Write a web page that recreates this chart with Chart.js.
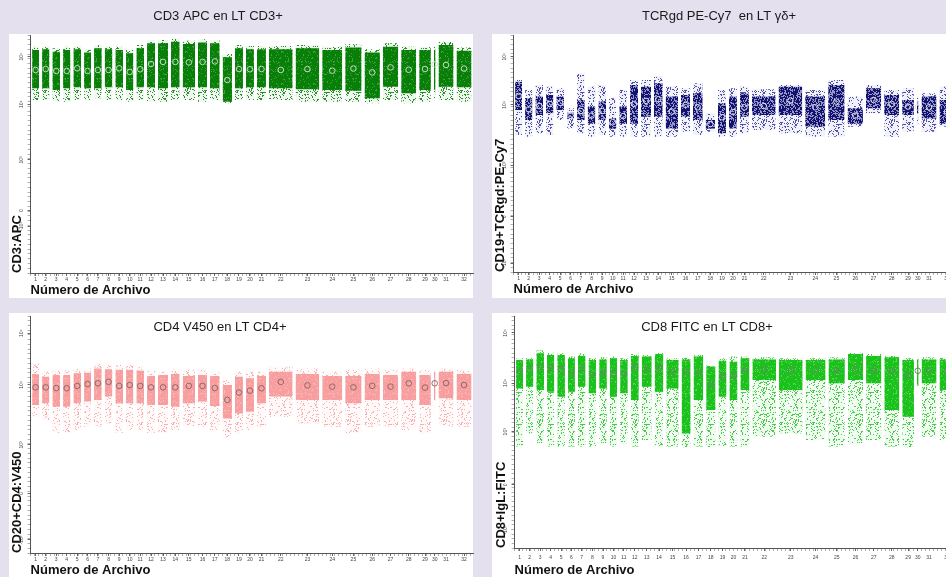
<!DOCTYPE html>
<html lang="es">
<head>
<meta charset="utf-8">
<title>Estabilidad de fluorescencia por archivo</title>
<script src="https://cdn.jsdelivr.net/npm/chart.js@4.4.1/dist/chart.umd.min.js"></script>
<style>
  html, body { margin: 0; padding: 0; }
  body {
    width: 946px;
    height: 577px;
    overflow: hidden;
    position: relative;
    background: #e4e0ee;
  }
  canvas { position: absolute; }
  #cd3Chart { left: 0; top: 0; }
  #tcrChart { left: 480px; top: 0; }
  #cd4Chart { left: 0; top: 300px; }
  #cd8Chart { left: 480px; top: 300px; }
</style>
</head>
<body>
<canvas id="cd3Chart" width="480" height="300"></canvas>
<canvas id="tcrChart" width="490" height="300"></canvas>
<canvas id="cd4Chart" width="480" height="280"></canvas>
<canvas id="cd8Chart" width="490" height="280"></canvas>

<script>
// Files (x axis) and number of events per file, in thousands
const fileLabels = ['1','2','3','4','5','6','7','8','9','10','11','12','13','14','15','16',
    '17','18','19','20','21','22','23','24','25','26','27','28','29','30','31','32'];
const fileEvents = [30, 31, 32, 31, 32, 30, 32, 32, 32, 31, 32, 33, 39, 35, 46, 36,
    38, 37, 33, 33, 36, 80, 80, 69, 58, 55, 55, 54, 44, 14, 54, 54];

// Y axis in display channels (0-1000), biexponential tick labels
const yTickLabels = ['-10³', '0', '10³', '10⁴', '10⁵'];
const cd3Ticks = [195, 262, 475, 709, 909];
const tcrTicks = [37, 233, 451, 705, 908];
const cd4Ticks = [55, 252, 456, 709, 927];
const cd8Ticks = [78, 272, 501, 711, 927];

// CD3 APC en LT CD3+
const cd3TailHi = [951, 954, 944, 951, 954, 940, 958, 954, 951, 937, 958, 979, 979, 986, 976, 982,
    979, 920, 958, 954, 954, 954, 958, 951, 962, 940, 965, 951, 951, 951, 972, 948];
const cd3CoreHi = [937, 940, 930, 937, 940, 926, 944, 940, 937, 923, 944, 965, 965, 972, 962, 968,
    965, 906, 944, 940, 940, 940, 944, 937, 948, 926, 951, 937, 937, 937, 958, 934];
const cd3Median = [853, 857, 849, 849, 860, 849, 853, 853, 860, 845, 856, 878, 887, 887, 885, 887,
    889, 811, 857, 856, 857, 853, 857, 850, 859, 843, 864, 854, 857, 877, 874, 859];
const cd3CoreLo = [776, 776, 769, 776, 780, 776, 776, 780, 780, 769, 780, 780, 776, 780, 780, 780,
    776, 720, 776, 780, 780, 776, 772, 769, 766, 734, 783, 755, 769, 770, 783, 780];
const cd3TailLo = [727, 727, 720, 720, 727, 727, 734, 727, 727, 720, 727, 720, 720, 727, 727, 720,
    727, 713, 727, 727, 727, 727, 720, 720, 720, 713, 727, 713, 720, 727, 727, 720];

// TCRgd PE-Cy7 en LT gd+
const tcrTailHi = [810, 768, 789, 782, 775, 691, 838, 782, 789, 733, 768, 810, 810, 827, 785, 775,
    796, 670, 768, 775, 782, 771, 789, 768, 810, 740, 789, 768, 775, 740, 754, 782];
const tcrCoreHi = [803, 733, 740, 747, 740, 672, 726, 698, 719, 648, 698, 789, 782, 796, 740, 747,
    754, 641, 712, 740, 754, 740, 782, 740, 789, 691, 775, 747, 726, 720, 740, 726];
const tcrMedian = [743, 686, 700, 709, 714, 660, 679, 660, 679, 632, 658, 709, 722, 729, 677, 705,
    695, 624, 653, 675, 695, 700, 723, 695, 719, 660, 726, 709, 698, 695, 695, 677];
const tcrCoreLo = [684, 641, 662, 670, 684, 648, 641, 627, 641, 606, 627, 627, 655, 655, 606, 655,
    641, 606, 585, 606, 655, 662, 662, 613, 641, 627, 691, 662, 662, 670, 648, 627];
const tcrTailLo = [578, 571, 585, 578, 641, 606, 585, 571, 578, 571, 571, 571, 571, 571, 571, 592,
    578, 592, 571, 571, 585, 599, 585, 571, 571, 613, 670, 571, 592, 620, 592, 613];

// CD4 V450 en LT CD4+
const cd4TailHi = [800, 765, 773, 773, 779, 779, 800, 793, 793, 793, 786, 773, 765, 773, 773, 773,
    765, 730, 765, 765, 765, 786, 779, 765, 773, 779, 773, 779, 773, 773, 779, 773];
const cd4CoreHi = [755, 744, 751, 751, 758, 761, 779, 775, 773, 773, 769, 747, 751, 755, 747, 751,
    747, 709, 744, 737, 747, 765, 755, 747, 747, 755, 751, 765, 751, 765, 765, 755];
const cd4Median = [699, 699, 696, 695, 705, 713, 716, 722, 705, 709, 705, 699, 699, 699, 705, 705,
    696, 646, 677, 685, 695, 722, 707, 702, 699, 705, 702, 716, 698, 716, 717, 709];
const cd4CoreLo = [624, 632, 617, 617, 632, 639, 646, 660, 632, 632, 632, 624, 624, 617, 632, 639,
    620, 568, 589, 596, 632, 660, 646, 646, 632, 646, 646, 646, 624, 646, 653, 646];
const cd4TailLo = [575, 561, 505, 505, 519, 533, 533, 547, 505, 519, 519, 505, 505, 519, 533, 533,
    519, 491, 505, 519, 533, 575, 547, 533, 505, 533, 533, 519, 505, 600, 533, 533];

// CD8 FITC en LT CD8+
const cd8TailHi = [818, 822, 851, 842, 839, 825, 839, 818, 822, 825, 818, 839, 832, 842, 818, 822,
    832, 789, 818, 825, 825, 822, 818, 818, 822, 842, 836, 828, 818, 822, 822, 822];
const cd8CoreHi = [810, 813, 839, 832, 832, 818, 828, 810, 813, 818, 810, 828, 825, 836, 810, 813,
    825, 782, 807, 803, 818, 813, 810, 810, 813, 836, 828, 822, 810, 813, 813, 813];
const cd8Median = [760, 770, 779, 776, 770, 756, 770, 747, 756, 753, 753, 779, 767, 774, 760, 760,
    756, 703, 741, 741, 764, 770, 767, 767, 764, 770, 764, 764, 746, 764, 764, 764];
const cd8CoreLo = [688, 695, 681, 674, 652, 674, 695, 667, 688, 652, 667, 638, 695, 674, 688, 494,
    638, 595, 652, 638, 681, 724, 681, 724, 710, 724, 710, 595, 566, 700, 710, 681];
const cd8TailLo = [437, 494, 451, 437, 437, 437, 437, 437, 451, 437, 451, 437, 466, 437, 437, 434,
    437, 434, 437, 437, 437, 480, 494, 466, 437, 451, 466, 437, 434, 695, 480, 466];

Chart.defaults.font.family = "'Liberation Sans', Arial, sans-serif";

// Where each file starts on the event axis
const fileStart = [];
let totalEvents = 0;
fileEvents.forEach(n => {
    fileStart.push(totalEvents);
    totalEvents += n;
});
const fileCenter = fileEvents.map((n, i) => fileStart[i] + n / 2);
const GAP = 4.5; // blank space between files, in event units

// One flat segment per file, broken by a null so each file is its own block
function bandLine(values) {
    const pts = [];
    values.forEach((v, i) => {
        const s = fileStart[i];
        const e = s + fileEvents[i];
        pts.push({ x: s + GAP, y: v }, { x: e - GAP, y: v }, { x: e, y: null });
    });
    return pts;
}

// Dotted fill so the blocks read like clouds of events (fixed dither, style only)
function speckle(rgb, density, wash) {
    const size = 32;
    const c = document.createElement('canvas');
    c.width = size;
    c.height = size;
    const g = c.getContext('2d');
    g.fillStyle = `rgba(${rgb},${wash})`;
    g.fillRect(0, 0, size, size);
    g.fillStyle = `rgb(${rgb})`;
    for (let y = 0; y < size; y++) {
        for (let x = 0; x < size; x++) {
            let h = Math.imul(x + 1, 374761393) + Math.imul(y + 7, 668265263);
            h = Math.imul(h ^ (h >>> 13), 1274126177);
            h ^= h >>> 16;
            if (((h >>> 0) % 1000) / 1000 < density) g.fillRect(x, y, 1, 1);
        }
    }
    return g.createPattern(c, 'repeat');
}

// White panel behind each plot and the panel heading
const panelPlugin = {
    id: 'panel',
    beforeDraw(chart, args, opts) {
        const ctx = chart.ctx;
        ctx.save();
        ctx.fillStyle = '#ffffff';
        ctx.fillRect(opts.x, opts.y, opts.w, opts.h);
        ctx.restore();
    },
    afterDraw(chart, args, opts) {
        const ctx = chart.ctx;
        ctx.save();
        ctx.font = "13px 'Liberation Sans', Arial, sans-serif";
        ctx.fillStyle = '#1a1a1a';
        ctx.textAlign = 'center';
        ctx.textBaseline = 'middle';
        ctx.fillText(opts.title, opts.tx, opts.ty);
        ctx.restore();
    }
};

function makePanel(canvasId, cfg) {
    const ctx = document.getElementById(canvasId).getContext('2d');
    const band = {
        borderWidth: 0,
        borderColor: 'rgba(0,0,0,0)',
        pointRadius: 0,
        tension: 0
    };

    return new Chart(ctx, {
        type: 'line',
        data: {
            datasets: [
                {
                    label: 'Mediana',
                    data: fileCenter.map((x, i) => ({ x, y: cfg.median[i] })),
                    showLine: false,
                    pointRadius: 2.8,
                    pointBorderWidth: 1,
                    pointBackgroundColor: 'rgba(0,0,0,0)',
                    pointBorderColor: cfg.medianColor,
                    order: 0
                },
                { ...band, label: 'Eventos', data: bandLine(cfg.coreHi), fill: '+1', backgroundColor: cfg.coreColor, order: 1 },
                { ...band, label: 'Eventos inf', data: bandLine(cfg.coreLo), fill: false, order: 1 },
                { ...band, label: 'Dispersos', data: bandLine(cfg.tailHi), fill: '+1', backgroundColor: cfg.tailColor, order: 2 },
                { ...band, label: 'Dispersos inf', data: bandLine(cfg.tailLo), fill: false, order: 2 }
            ]
        },
        options: {
            responsive: false,
            animation: false,
            events: [],
            layout: { padding: cfg.padding },
            plugins: {
                legend: { display: false },
                tooltip: { enabled: false },
                panel: cfg.panel
            },
            scales: {
                x: {
                    type: 'linear',
                    min: 0,
                    max: totalEvents,
                    afterBuildTicks: scale => {
                        const ticks = fileCenter.map((v, i) => ({ value: v, file: fileLabels[i] }));
                        for (let v = 0; v <= totalEvents; v += 12) {
                            if (!fileCenter.includes(v)) ticks.push({ value: v, file: '' });
                        }
                        ticks.sort((a, b) => a.value - b.value);
                        scale.ticks = ticks;
                    },
                    ticks: {
                        autoSkip: false,
                        minRotation: 0,
                        maxRotation: 0,
                        padding: cfg.xTickPad,
                        font: { size: 5 },
                        color: '#444',
                        callback: (value, index, ticks) => ticks[index].file
                    },
                    grid: {
                        drawOnChartArea: false,
                        tickLength: 3,
                        color: c => (c.tick && c.tick.file ? '#666' : '#b0b0b0')
                    },
                    border: { color: '#555', width: 1 },
                    title: {
                        display: true,
                        text: 'Número de Archivo',
                        align: 'start',
                        color: '#111',
                        padding: 0,
                        font: { size: 13, weight: 'bold', lineHeight: 1 }
                    }
                },
                y: {
                    type: 'linear',
                    min: 0,
                    max: 1000,
                    afterBuildTicks: scale => {
                        const ticks = cfg.ticks.map((v, i) => ({ value: v, name: yTickLabels[i] }));
                        for (let v = 0; v <= 1000; v += 20) {
                            if (!cfg.ticks.includes(v)) ticks.push({ value: v, name: '' });
                        }
                        ticks.sort((a, b) => a.value - b.value);
                        scale.ticks = ticks;
                    },
                    ticks: {
                        autoSkip: false,
                        minRotation: 90,
                        maxRotation: 90,
                        crossAlign: 'center',
                        padding: 1.75,
                        font: { size: 5 },
                        color: '#444',
                        callback: (value, index, ticks) => ticks[index].name
                    },
                    grid: {
                        drawOnChartArea: false,
                        tickLength: 3,
                        color: c => (c.tick && c.tick.name ? '#666' : '#b0b0b0')
                    },
                    border: { color: '#555', width: 1 },
                    title: {
                        display: true,
                        text: cfg.yTitle,
                        align: 'start',
                        color: '#111',
                        padding: { top: 0, bottom: -5.5 },
                        font: { size: 13, weight: 'bold', lineHeight: 1 }
                    }
                }
            }
        },
        plugins: [panelPlugin]
    });
}

makePanel('cd3Chart', {
    yTitle: 'CD3:APC',
    ticks: cd3Ticks,
    median: cd3Median, coreHi: cd3CoreHi, coreLo: cd3CoreLo, tailHi: cd3TailHi, tailLo: cd3TailLo,
    coreColor: speckle('8,128,8', 0.9, 0.75),
    tailColor: speckle('40,145,40', 0.2, 0.07),
    medianColor: 'rgba(205,220,205,0.95)',
    xTickPad: 1,
    padding: { left: 10.6, right: 7, top: 35, bottom: 3 },
    panel: { x: 9, y: 34, w: 464, h: 264, title: 'CD3 APC en LT CD3+', tx: 218, ty: 16 }
});

makePanel('tcrChart', {
    yTitle: 'CD19+TCRgd:PE-Cy7',
    ticks: tcrTicks,
    median: tcrMedian, coreHi: tcrCoreHi, coreLo: tcrCoreLo, tailHi: tcrTailHi, tailLo: tcrTailLo,
    coreColor: speckle('18,18,115', 0.65, 0.4),
    tailColor: speckle('80,80,170', 0.2, 0.08),
    medianColor: 'rgba(225,225,240,0.95)',
    xTickPad: 1,
    padding: { left: 13.6, right: 14, top: 35, bottom: 4 },
    panel: { x: 12, y: 34, w: 478, h: 264, title: 'TCRgd PE-Cy7  en LT γδ+', tx: 239, ty: 16 }
});

makePanel('cd4Chart', {
    yTitle: 'CD20+CD4:V450',
    ticks: cd4Ticks,
    median: cd4Median, coreHi: cd4CoreHi, coreLo: cd4CoreLo, tailHi: cd4TailHi, tailLo: cd4TailLo,
    coreColor: speckle('248,158,158', 0.9, 0.7),
    tailColor: speckle('248,175,175', 0.15, 0.07),
    medianColor: 'rgba(130,100,100,0.9)',
    xTickPad: 1,
    padding: { left: 10.6, right: 7, top: 16, bottom: 3 },
    panel: { x: 9, y: 13, w: 464, h: 267, title: 'CD4 V450 en LT CD4+', tx: 220, ty: 27 }
});

makePanel('cd8Chart', {
    yTitle: 'CD8+IgL:FITC',
    ticks: cd8Ticks,
    median: cd8Median, coreHi: cd8CoreHi, coreLo: cd8CoreLo, tailHi: cd8TailHi, tailLo: cd8TailLo,
    coreColor: speckle('28,194,28', 0.9, 0.7),
    tailColor: speckle('70,205,70', 0.2, 0.07),
    medianColor: 'rgba(110,130,110,0.9)',
    xTickPad: 3.25,
    padding: { left: 14.6, right: 14, top: 16, bottom: 3.5 },
    panel: { x: 12, y: 13, w: 478, h: 267, title: 'CD8 FITC en LT CD8+', tx: 227, ty: 27 }
});
</script>
</body>
</html>
